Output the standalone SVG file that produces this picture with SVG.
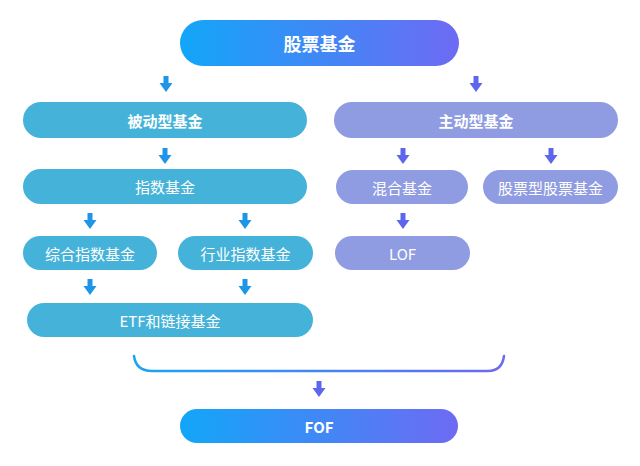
<svg xmlns="http://www.w3.org/2000/svg" width="640" height="466" viewBox="0 0 640 466">
<defs>
<linearGradient id="g" x1="0" y1="0" x2="1" y2="0">
<stop offset="0" stop-color="#12A6F8"/>
<stop offset="1" stop-color="#6E6AF4"/>
</linearGradient>
<linearGradient id="gb" gradientUnits="userSpaceOnUse" x1="134" y1="0" x2="504" y2="0">
<stop offset="0" stop-color="#1AA4F2"/>
<stop offset="1" stop-color="#6C6AEE"/>
</linearGradient>
<path id="arr" d="M-2.5,-8 H2.5 V-1 H6.5 L0,8 L-6.5,-1 H-2.5 Z"/>
</defs>
<style>
text{font-family:"Noto Sans CJK SC","Noto Sans",sans-serif;fill:#fff;text-anchor:middle;dominant-baseline:central;font-size:15px}
.b{font-weight:bold}
.p{fill:#45B3D9}
.a{fill:#8F9CE1}
.ab{fill:#1F95E8}
.ap{fill:#5F66EE}
</style>
<rect width="640" height="466" fill="#fff"/>
<g id="connectors">
<use href="#arr" x="166" y="84" class="ab"/>
<use href="#arr" x="476" y="84" class="ap"/>
<use href="#arr" x="165" y="156" class="ab"/>
<use href="#arr" x="403" y="156" class="ap"/>
<use href="#arr" x="551" y="156" class="ap"/>
<use href="#arr" x="90" y="221" class="ab"/>
<use href="#arr" x="245" y="221" class="ab"/>
<use href="#arr" x="403" y="221" class="ap"/>
<use href="#arr" x="90" y="287" class="ab"/>
<use href="#arr" x="245" y="287" class="ab"/>
<path d="M134,356 Q136,371 152,371 H488 Q502,371 504,356" fill="none" stroke="url(#gb)" stroke-width="2.5" stroke-linecap="round"/>
<use href="#arr" x="319" y="389" class="ap"/>
</g>
<g id="n_root"><rect x="180" y="20" width="279" height="46" rx="23" fill="url(#g)"/><text x="319.5" y="43" class="b" style="font-size:18px">股票基金</text></g>
<g id="n_passive"><rect x="23" y="102" width="284" height="36" rx="18" class="p"/><text x="165" y="120" class="b">被动型基金</text></g>
<g id="n_active"><rect x="334" y="102" width="284" height="36" rx="18" class="a"/><text x="476" y="120" class="b">主动型基金</text></g>
<g id="n_index"><rect x="23" y="169" width="284" height="35" rx="17.5" class="p"/><text x="165" y="186.5">指数基金</text></g>
<g id="n_mixed"><rect x="336" y="170" width="132" height="34" rx="17" class="a"/><text x="402" y="187">混合基金</text></g>
<g id="n_stock"><rect x="483" y="170" width="135" height="34" rx="17" class="a"/><text x="550.5" y="187">股票型股票基金</text></g>
<g id="n_comp"><rect x="23" y="236" width="134" height="34" rx="17" class="p"/><text x="90" y="253">综合指数基金</text></g>
<g id="n_ind"><rect x="178" y="236" width="135" height="34" rx="17" class="p"/><text x="245.5" y="253">行业指数基金</text></g>
<g id="n_lof"><rect x="335" y="236" width="135" height="34" rx="17" class="a"/><text x="402.5" y="253">LOF</text></g>
<g id="n_etf"><rect x="27" y="303" width="286" height="34" rx="17" class="p"/><text x="170" y="320">ETF和链接基金</text></g>
<g id="n_fof"><rect x="180" y="409" width="278" height="34" rx="17" fill="url(#g)"/><text x="319" y="426" class="b">FOF</text></g>
</svg>
